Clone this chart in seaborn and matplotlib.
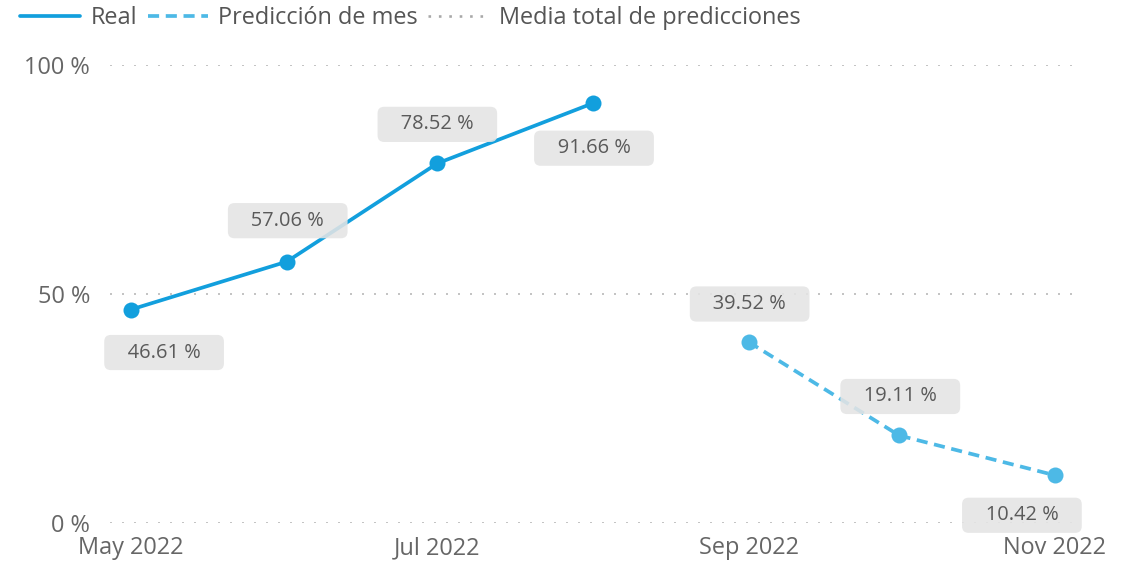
import matplotlib
matplotlib.use("Agg")
import matplotlib.pyplot as plt
from matplotlib.lines import Line2D
import seaborn as sns
import pandas as pd

# ---- data ----
real_months = ["2022-05-01", "2022-06-01", "2022-07-01", "2022-08-01"]
real_values = [46.61, 57.06, 78.52, 91.66]
pred_months = ["2022-09-01", "2022-10-01", "2022-11-01"]
pred_values = [39.52, 19.11, 10.42]
tick_months = ["2022-05-01", "2022-07-01", "2022-09-01", "2022-11-01"]
tick_labels = ["May 2022", "Jul 2022", "Sep 2022", "Nov 2022"]
y_ticks = [0, 50, 100]
y_tick_labels = ["0 %", "50 %", "100 %"]
legend_labels = ["Real", "Predicción de mes", "Media total de predicciones"]

# label offsets (px) for data labels: style only
real_offsets = [(33, -43), (1, 41), (0, 39), (1, -45)]
pred_offsets = [(1, 38), (1, 39), (-33, -40)]

REAL_C = "#129FDD"
PRED_C = "#4DB9E6"
GRID_C = "#C4C4C4"
TEXT_C = "#666666"

sns.set_theme(style="white")
plt.rcParams["font.family"] = ["Open Sans", "DejaVu Sans"]

W, H = 1134, 563
fig = plt.figure(figsize=(W / 72, H / 72), dpi=72)
ax = fig.add_axes([110 / W, (H - 523) / H, 965 / W, 458 / H])

df_real = pd.DataFrame({"mes": pd.to_datetime(real_months), "valor": real_values})
df_pred = pd.DataFrame({"mes": pd.to_datetime(pred_months), "valor": pred_values})

# gridlines
for yv in y_ticks:
    ax.axhline(yv, color=GRID_C, lw=2, linestyle=(0, (1, 5)), zorder=0)

sns.lineplot(data=df_real, x="mes", y="valor", ax=ax, color=REAL_C, lw=3.7,
             marker="o", markersize=16, markeredgewidth=0, clip_on=False, zorder=3)
sns.lineplot(data=df_pred, x="mes", y="valor", ax=ax, color=PRED_C, lw=3.7,
             marker="o", markersize=16, markeredgewidth=0, clip_on=False, zorder=3,
             linestyle=(0, (3, 1.8)))

def add_labels(df, offsets):
    for (x, y), (dx, dy) in zip(zip(df["mes"], df["valor"]), offsets):
        ax.annotate(f"   {y:.2f} %   ", xy=(x, y), xytext=(dx, dy),
                    textcoords="offset points", ha="center", va="center",
                    fontsize=20, color="#5a5a5a", zorder=5, annotation_clip=False,
                    bbox=dict(boxstyle="round,pad=0.38,rounding_size=0.33",
                              fc="#E4E4E4", ec="none", alpha=0.88))

add_labels(df_real, real_offsets)
add_labels(df_pred, pred_offsets)

ax.set_ylim(0, 100)
x0 = pd.Timestamp("2022-05-01") - pd.Timedelta(days=4.2)
x1 = pd.Timestamp("2022-11-01") + pd.Timedelta(days=4.0)
ax.set_xlim(x0, x1)
ax.set_xticks(pd.to_datetime(tick_months))
ax.set_xticklabels(tick_labels)
ax.set_yticks(y_ticks)
ax.set_yticklabels(y_tick_labels)
ax.tick_params(axis="x", labelsize=23.5, length=0, pad=13)
ax.tick_params(axis="y", labelsize=23.5, length=0, pad=20)
for lab in ax.get_xticklabels() + ax.get_yticklabels():
    lab.set_color(TEXT_C)
ax.set_xlabel("")
ax.set_ylabel("")
for s in ax.spines.values():
    s.set_visible(False)
ax.grid(False)

handles = [
    Line2D([], [], color=REAL_C, lw=3.7),
    Line2D([], [], color=PRED_C, lw=3.7, linestyle=(0, (3, 1.8))),
    Line2D([], [], color="#A8A8A8", lw=2.6, linestyle=(0, (1, 3))),
]
fig.legend(handles, legend_labels, loc="upper left",
           bbox_to_anchor=(20 / W, 1.0 - 6 / H),
           ncol=3, frameon=False, fontsize=23.5, handlelength=2.55, handletextpad=0.45,
           columnspacing=0.45, borderpad=0.0, borderaxespad=0.0, labelcolor="#555555")

fig.savefig("out.png", dpi=72)
